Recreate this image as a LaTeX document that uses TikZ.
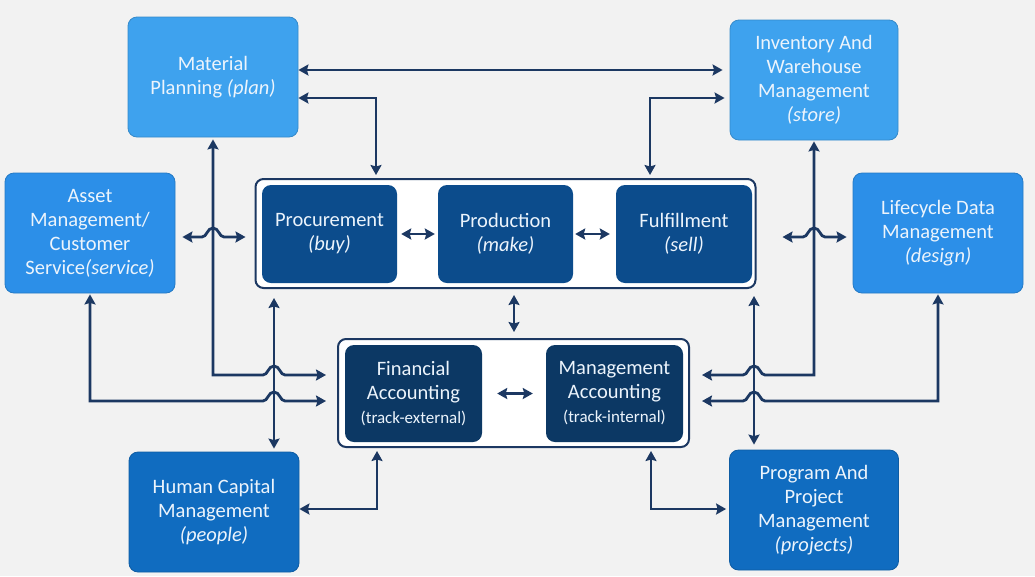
\documentclass[tikz,border=0pt]{standalone}
\usepackage{fontspec}
\setmainfont{Carlito}
\usetikzlibrary{arrows.meta}
\definecolor{bg}{RGB}{242,242,242}
\definecolor{cLight}{RGB}{62,162,238}
\definecolor{cMid}{RGB}{44,143,232}
\definecolor{cDeep}{RGB}{16,108,192}
\definecolor{cProc}{RGB}{12,76,140}
\definecolor{cFin}{RGB}{12,56,100}
\definecolor{cLine}{RGB}{28,56,98}
\definecolor{cText}{RGB}{236,244,252}
\begin{document}
\begin{tikzpicture}[x=1pt,y=-1pt,
  box/.style={rectangle, rounded corners=9pt, text=cText, align=center,
    font=\fontsize{20.5}{24}\selectfont, inner sep=0pt},
  light/.style={box, fill=cLight, draw=cLight!85!black, line width=0.8pt, minimum width=170pt, minimum height=120pt},
  mid/.style={box, fill=cMid, draw=cMid!85!black, line width=0.8pt, minimum width=170pt, minimum height=120pt},
  deep/.style={box, fill=cDeep, draw=cDeep!85!black, line width=0.8pt, minimum width=170pt, minimum height=120pt},
  procbox/.style={box, fill=cProc, minimum width=135pt, minimum height=98pt},
  finbox/.style={box, fill=cFin, minimum width=137pt, minimum height=97pt},
  container/.style={rectangle, rounded corners=8pt, fill=white, draw=cLine, line width=2pt},
  conn/.style={draw=cLine, line width=2.8pt, >={Stealth[length=10pt,width=11pt,inset=1.5pt]}},
  hop/.style args={#1/#2}{insert path={-- ({#1-11},#2) .. controls ({#1-6},#2) and ({#1-6},{#2-9}) .. (#1,{#2-9}) .. controls ({#1+6},{#2-9}) and ({#1+6},#2) .. ({#1+11},#2)}}
]
\fill[bg] (0,0) rectangle (1035,576);
\useasboundingbox (0,0) rectangle (1035,576);

% outer boxes
\node[light] (MP) at (213,77) {Material\\Planning \textit{(plan)}};
\node[light, minimum width=168pt] (IW) at (814,80) {Inventory And\\Warehouse\\Management\\\textit{(store)}};
\node[mid] (AM) at (90,233) {Asset\\Management/\\Customer\\Service\textit{(service)}};
\node[mid] (LD) at (938,233) {Lifecycle Data\\Management\\\textit{(design)}};
\node[deep] (HC) at (214,512) {Human Capital\\Management\\\textit{(people)}};
\node[deep, minimum width=169pt] (PP) at (814,510) {Program And\\Project\\Management\\\textit{(projects)}};

% containers
\node[container, minimum width=500pt, minimum height=109pt] (C1) at (505.5,233.5) {};
\node[container, minimum width=351pt, minimum height=108pt] (C2) at (513.5,393) {};

\node[procbox] (Proc) at (329.5,234) {Procurement\\\textit{(buy)}};
\node[procbox] (Prod) at (505.5,234) {Production\\\textit{(make)}};
\node[procbox, minimum width=136pt] (Fulf) at (684,234) {Fulfillment\\\textit{(sell)}};

\node[finbox] (Fin) at (413.5,393.5) {Financial\\Accounting\\{\fontsize{17}{22}\selectfont(track-external)}};
\node[finbox] (Mgmt) at (614.5,393.5) {Management\\Accounting\\{\fontsize{17}{22}\selectfont(track-internal)}};

% helper rows / columns
\coordinate (rA) at (0,70);
\coordinate (rB) at (0,98);
\coordinate (rC) at (0,237);
\coordinate (rD) at (0,375);
\coordinate (rE) at (0,401);
\coordinate (rF) at (0,509);
\coordinate (cA) at (376,0);
\coordinate (cB) at (650,0);
\coordinate (cL) at (274,0);
\coordinate (cR) at (754,0);
\coordinate (cP) at (514,0);
\coordinate (cH) at (377,0);
\coordinate (cM) at (651,0);

% connectors
\draw[conn,<->,shorten >=7pt] (MP.east|-rA) -- (IW.west|-rA);
\draw[conn,<->,shorten >=3pt] (MP.east|-rB) -| (cA|-C1.north);
\draw[conn,<->,shorten <=3pt,shorten >=5pt] (cB|-C1.north) |- (IW.west|-rB);

\draw[conn,<->,shorten <=7pt,shorten >=9pt] (AM.east|-rC) [hop=213/237] -- (C1.west|-rC);
\draw[conn,<->,shorten <=26pt,shorten >=6pt] (C1.east|-rC) [hop=814/237] -- (LD.west|-rC);

\draw[conn,<->,shorten <=2pt,shorten >=11pt] (MP.south) -- (MP.south|-rD) [hop=274/375] -- (C2.west|-rD);
\draw[conn,<->,shorten <=1pt,shorten >=11pt] (AM.south) -- (AM.south|-rE) [hop=274/401] -- (C2.west|-rE);
\draw[conn,<->,shorten <=12pt,shorten >=1pt] (C2.east|-rD) [hop=754/375] -- (IW.south|-rD) -- (IW.south);
\draw[conn,<->,shorten <=12pt,shorten >=1pt] (C2.east|-rE) [hop=754/401] -- (LD.south|-rE) -- (LD.south);

\draw[conn,<->,shorten <=9pt,shorten >=3pt] (cL|-C1.south) -- (cL|-HC.north);
\draw[conn,<->,shorten <=7pt,shorten >=5pt] (cR|-C1.south) -- (cR|-PP.north);
\draw[conn,<->,shorten <=6pt,shorten >=6pt] (cP|-C1.south) -- (cP|-C2.north);

\draw[conn,<->,shorten <=4pt,shorten >=3pt] (Proc.east) -- (Prod.west);
\draw[conn,<->,shorten <=2pt,shorten >=6pt] (Prod.east) -- (Fulf.west);
\draw[conn,<->,shorten <=15pt,shorten >=13pt] (Fin.east) -- (Mgmt.west);

\draw[conn,<->,shorten >=3pt] (HC.east|-rF) -| (cH|-C2.south);
\draw[conn,<->,shorten <=3pt,shorten >=3pt] (cM|-C2.south) |- (PP.west|-rF);
\end{tikzpicture}
\end{document}
